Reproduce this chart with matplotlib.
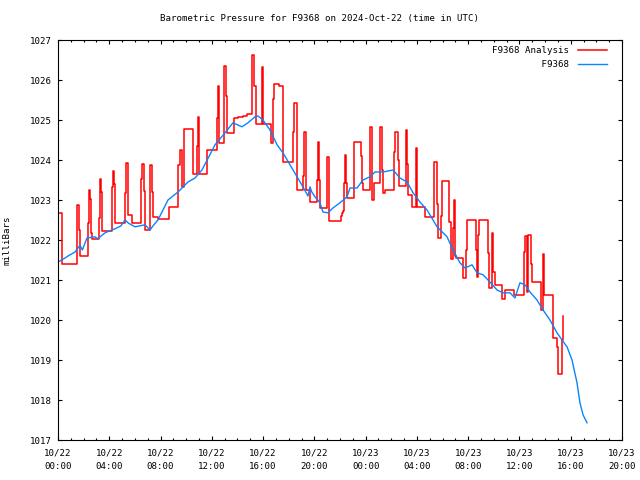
#!/usr/bin/env python3
# barometric pressure plot, gnuplot look

import numpy as np
import matplotlib
matplotlib.use("Agg")
import matplotlib.pyplot as plt
from matplotlib.ticker import MultipleLocator

# hours after 2024-10-22 00:00 UTC, pressure in mbar
station_hours = [0.0, 0.55, 0.78, 1.33, 1.72, 1.9, 2.26, 2.89, 3.10, 3.67, 4.2, 4.45, 4.9,
                 5.23, 5.5, 6.01, 6.79, 7.18, 7.4, 7.80, 8.58, 9.36, 10.14, 10.69, 11.23,
                 12.25, 13.03, 13.65, 14.35, 14.82, 15.37, 15.60, 15.99, 16.54, 17.09,
                 17.55, 18.10, 18.65, 19.11, 19.5, 19.66, 19.8, 20.05, 20.44, 20.67,
                 21.06, 21.45, 22.0, 22.55, 22.78, 23.33, 23.79, 24.34, 24.73, 25.36,
                 26.14, 26.68, 27.23, 27.70, 28.24, 28.79, 29.26, 29.57, 30.35, 30.82,
                 31.36, 31.75, 32.30, 32.69, 33.16, 33.70, 34.25, 34.72, 35.26, 35.65,
                 36.04, 36.43, 36.82, 37.37, 37.84, 38.38, 38.93, 39.32, 39.71, 40.10,
                 40.49, 40.72, 40.96, 41.27]
station_mbar = [1021.45, 1021.55, 1021.60, 1021.70, 1021.87, 1021.75, 1022.05, 1022.08, 1022.03,
                1022.18, 1022.25, 1022.28, 1022.35, 1022.50, 1022.42, 1022.33, 1022.38,
                1022.25, 1022.35, 1022.50, 1023.00, 1023.20, 1023.45, 1023.55, 1023.75,
                1024.38, 1024.68, 1024.93, 1024.83, 1024.93, 1025.08, 1025.10, 1025.00,
                1024.75, 1024.38, 1024.18, 1023.88, 1023.58, 1023.33, 1023.10, 1023.33,
                1023.20, 1023.08, 1022.93, 1022.70, 1022.68, 1022.80, 1022.93, 1023.08,
                1023.30, 1023.30, 1023.50, 1023.58, 1023.70, 1023.70, 1023.75, 1023.55,
                1023.45, 1023.18, 1022.95, 1022.75, 1022.50, 1022.33, 1022.08, 1021.75,
                1021.43, 1021.30, 1021.38, 1021.18, 1021.13, 1020.95, 1020.75, 1020.68,
                1020.68, 1020.55, 1020.93, 1020.88, 1020.70, 1020.50, 1020.25, 1020.00,
                1019.68, 1019.50, 1019.33, 1019.00, 1018.43, 1017.93, 1017.63, 1017.43]

# analysis values, held until the next time (step)
analysis_hours = [0.00, 0.34, 1.46, 1.50, 1.61, 1.72, 2.37, 2.45, 2.52, 2.60, 2.68, 3.23,
                  3.28, 3.38, 3.46, 4.24, 4.32, 4.40, 4.47, 5.25, 5.31, 5.44, 5.80, 6.47,
                  6.55, 6.68, 6.79, 7.18, 7.36, 7.44, 7.83, 8.66, 9.39, 9.52, 9.67, 9.83,
                  10.56, 10.84, 10.90, 10.97, 11.60, 12.40, 12.46, 12.58, 12.93, 12.98,
                  13.11, 13.21, 13.76, 14.02, 14.41, 14.72, 15.11, 15.16, 15.32, 15.42,
                  15.92, 16.02, 16.59, 16.80, 16.88, 17.27, 17.58, 18.36, 18.44, 18.62,
                  18.67, 19.14, 19.22, 19.35, 19.66, 20.18, 20.31, 20.36, 20.44, 20.96,
                  21.01, 21.14, 21.17, 22.05, 22.15, 22.25, 22.33, 22.39, 22.47, 22.57,
                  23.12, 23.64, 23.70, 23.82, 24.34, 24.47, 24.53, 24.62, 25.12, 25.30,
                  25.38, 25.52, 26.21, 26.29, 26.55, 26.63, 27.12, 27.25, 27.33, 27.65,
                  27.90, 27.98, 28.63, 29.30, 29.33, 29.59, 29.67, 29.85, 29.93, 30.53,
                  30.64, 30.85, 30.92, 31.00, 31.05, 31.57, 31.80, 31.88, 32.60, 32.66,
                  32.80, 32.87, 33.57, 33.65, 33.83, 33.97, 34.09, 34.61, 34.87, 35.60,
                  36.36, 36.43, 36.60, 36.70, 36.90, 36.95, 37.66, 37.81, 37.92, 38.64,
                  38.90, 39.04, 39.35, 39.42]
analysis_mbar = [1022.68, 1021.39, 1022.25, 1022.88, 1022.25, 1021.61, 1022.42, 1023.25,
                 1023.02, 1022.17, 1022.02, 1022.55, 1023.52, 1023.20, 1022.22, 1023.33,
                 1023.72, 1023.40, 1022.43, 1023.17, 1023.92, 1022.62, 1022.42, 1023.52,
                 1023.90, 1023.22, 1022.25, 1023.87, 1023.21, 1022.57, 1022.52, 1022.82,
                 1023.87, 1024.25, 1023.33, 1024.77, 1023.65, 1024.35, 1025.07, 1023.65,
                 1024.25, 1025.04, 1025.85, 1024.42, 1025.60, 1026.36, 1025.60, 1024.67,
                 1025.04, 1025.07, 1025.10, 1025.14, 1025.85, 1026.62, 1025.85, 1024.89,
                 1026.33, 1024.90, 1024.42, 1025.53, 1025.90, 1025.85, 1023.96, 1024.71,
                 1025.43, 1024.50, 1023.25, 1023.60, 1024.71, 1023.25, 1022.96, 1023.50,
                 1024.46, 1023.50, 1022.79, 1023.20, 1024.08, 1023.20, 1022.48, 1022.60,
                 1022.67, 1022.72, 1023.42, 1024.12, 1023.42, 1023.04, 1024.46, 1024.10,
                 1023.42, 1023.25, 1024.83, 1023.75, 1023.00, 1023.42, 1024.83, 1023.75,
                 1023.17, 1023.25, 1024.20, 1024.71, 1024.00, 1023.35, 1024.75, 1023.90,
                 1023.12, 1022.83, 1024.29, 1022.82, 1022.58, 1023.27, 1023.96, 1022.90,
                 1022.04, 1022.60, 1023.47, 1022.46, 1021.52, 1022.30, 1023.00, 1021.60,
                 1021.54, 1021.04, 1021.75, 1022.50, 1021.75, 1021.07, 1022.12, 1022.50,
                 1021.67, 1020.79, 1022.17, 1021.21, 1020.87, 1020.52, 1020.75, 1020.62,
                 1021.71, 1022.10, 1020.71, 1022.12, 1021.40, 1020.96, 1020.25, 1021.65,
                 1020.62, 1019.54, 1019.33, 1018.65, 1019.50, 1020.10]

tick_hours = list(range(0, 45, 4))
tick_labels = [f"10/{22 + h // 24}\n{h % 24:02d}:00" for h in tick_hours]

FONT = "DejaVu Sans Mono"
FS = 6.6
plt.rcParams['font.family'] = FONT
plt.rcParams['font.size'] = FS

fig = plt.figure(figsize=(6.4, 4.8), dpi=100)
ax = fig.add_axes([58 / 640, 1 - 440 / 480, 564 / 640, 400 / 480])

ax.plot(analysis_hours, analysis_mbar, color='#ff0000', lw=1.1,
        drawstyle='steps-post', label="F9368 Analysis")
ax.plot(station_hours, station_mbar, color='#0a84ff', lw=1.0, label="         F9368")

ax.set_xlim(0, 44)
ax.set_ylim(1017, 1027)
ax.set_xticks(tick_hours)
ax.set_xticklabels(tick_labels, linespacing=1.65)
ax.xaxis.set_minor_locator(MultipleLocator(1))
ax.yaxis.set_major_locator(MultipleLocator(1))
ax.tick_params(which='both', direction='in', top=True, right=True, width=0.8, colors='black')
ax.tick_params(which='major', length=3.2)
ax.tick_params(which='minor', length=1.6)
ax.tick_params(axis='x', which='major', pad=6)
ax.tick_params(axis='y', which='major', pad=4.5)
for sp in ax.spines.values():
    sp.set_linewidth(0.8)

ax.set_ylabel("milliBars")
ax.yaxis.set_label_coords(-46 / 564, 0.5)

fig.text(0.5, 1 - 19 / 480, "Barometric Pressure for F9368 on 2024-Oct-22 (time in UTC)",
         ha='center', va='center')

ax.legend(loc='upper right', frameon=False, markerfirst=False, handlelength=3.1,
          handletextpad=0.95, labelspacing=0.5, borderaxespad=0.3,
          bbox_to_anchor=(1 - 9 / 564, 1.0))

fig.savefig("out.png", dpi=100)
